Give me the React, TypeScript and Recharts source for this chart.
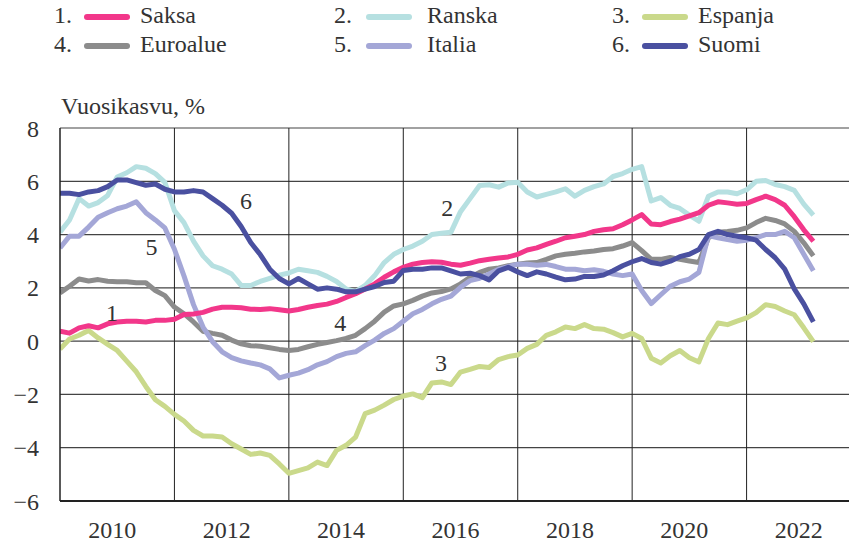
import { CartesianGrid, Line, LineChart, ReferenceDot, ReferenceLine, XAxis, YAxis } from 'recharts'

// kuukausisarjat, piste joka toinen kuukausi alkaen 1/2009
const START = 2009
const STEP = 1 / 6

const saksa = [
  0.37, 0.3, 0.5, 0.58, 0.5, 0.65, 0.72, 0.75, 0.75, 0.72, 0.78, 0.78, 0.82, 1.0, 1.02, 1.08, 1.2, 1.27, 1.27, 1.25,
  1.2, 1.19, 1.22, 1.18, 1.13, 1.19, 1.27, 1.34, 1.39, 1.49, 1.64, 1.78, 1.96, 2.15, 2.4, 2.6, 2.77, 2.89, 2.95, 2.98,
  2.96, 2.89, 2.85, 2.93, 3.02, 3.07, 3.12, 3.16, 3.26, 3.42, 3.5, 3.63, 3.75, 3.88, 3.94, 4.0, 4.12, 4.18, 4.22, 4.37,
  4.55, 4.75, 4.4, 4.37, 4.49, 4.58, 4.7, 4.82, 5.1, 5.23, 5.19, 5.14, 5.17, 5.31, 5.44, 5.31, 5.1, 4.67, 4.18, 3.75,
]
const ranska = [
  4.09, 4.55, 5.35, 5.07, 5.2, 5.47, 6.16, 6.32, 6.55, 6.49, 6.29, 5.96, 4.9, 4.45, 3.75, 3.2, 2.83, 2.7, 2.52, 2.09,
  2.09, 2.24, 2.36, 2.48, 2.56, 2.7, 2.64, 2.58, 2.43, 2.24, 1.96, 1.86, 2.09, 2.46, 2.95, 3.26, 3.44, 3.57, 3.75, 4.0,
  4.05, 4.09, 4.86, 5.35, 5.84, 5.87, 5.78, 5.94, 5.96, 5.6, 5.41, 5.51, 5.6, 5.72, 5.44, 5.66, 5.8, 5.9, 6.18, 6.29,
  6.45, 6.55, 5.26, 5.39, 5.1, 4.98, 4.73, 4.5, 5.44, 5.6, 5.6, 5.53, 5.68, 6.0, 6.03, 5.88, 5.8, 5.66, 5.14, 4.73,
]
const espanja = [
  -0.3, 0.08, 0.22, 0.4, 0.12, -0.12, -0.35, -0.75, -1.15, -1.7, -2.2, -2.45, -2.75, -3.0, -3.35, -3.56, -3.56, -3.6, -3.85, -4.05,
  -4.25, -4.2, -4.29, -4.61, -4.96, -4.86, -4.76, -4.54, -4.67, -4.1, -3.91, -3.6, -2.72, -2.59, -2.4, -2.19, -2.06, -1.98, -2.12, -1.57,
  -1.53, -1.63, -1.16, -1.06, -0.95, -0.99, -0.69, -0.58, -0.52, -0.27, -0.12, 0.22, 0.35, 0.53, 0.47, 0.62, 0.47, 0.45, 0.32, 0.16,
  0.29, 0.1, -0.64, -0.82, -0.55, -0.35, -0.62, -0.78, 0.1, 0.68, 0.62, 0.75, 0.87, 1.07, 1.37, 1.3, 1.13, 0.99, 0.5, -0.02,
]
const euroalue = [
  1.81, 2.06, 2.33, 2.26, 2.31, 2.25, 2.23, 2.23, 2.19, 2.19, 1.9, 1.71, 1.28, 1.03, 0.72, 0.37, 0.29, 0.22, 0.04, -0.1,
  -0.17, -0.19, -0.25, -0.31, -0.35, -0.31, -0.21, -0.12, -0.05, 0.02, 0.1, 0.22, 0.47, 0.75, 1.09, 1.32, 1.4, 1.53, 1.69, 1.81,
  1.86, 1.96, 2.15, 2.4, 2.58, 2.7, 2.75, 2.83, 2.89, 2.93, 2.95, 3.07, 3.2, 3.26, 3.3, 3.35, 3.38, 3.44, 3.47, 3.57,
  3.7, 3.4, 3.07, 3.07, 3.14, 3.07, 3.01, 2.95, 3.88, 4.09, 4.12, 4.16, 4.25, 4.45, 4.61, 4.53, 4.4, 4.12, 3.69, 3.2,
]
const italia = [
  3.5, 3.94, 3.94, 4.28, 4.65, 4.82, 4.97, 5.07, 5.23, 4.82, 4.55, 4.25, 3.45, 2.45, 1.37, 0.53, -0.02, -0.4, -0.62, -0.74,
  -0.82, -0.89, -1.04, -1.38, -1.28, -1.2, -1.07, -0.89, -0.77, -0.58, -0.46, -0.4, -0.17, 0.04, 0.29, 0.47, 0.75, 1.03, 1.19, 1.4,
  1.57, 1.69, 2.02, 2.27, 2.36, 2.52, 2.7, 2.8, 2.89, 2.89, 2.85, 2.88, 2.8, 2.7, 2.7, 2.64, 2.68, 2.62, 2.52, 2.46,
  2.52, 1.9, 1.41, 1.74, 2.06, 2.23, 2.33, 2.58, 3.96, 3.88, 3.81, 3.75, 3.79, 3.88, 4.0, 4.0, 4.12, 3.88, 3.26, 2.64,
]
const suomi = [
  5.55, 5.55, 5.5, 5.6, 5.65, 5.8, 6.05, 6.05, 5.95, 5.85, 5.9, 5.7, 5.6, 5.6, 5.65, 5.6, 5.35, 5.1, 4.8, 4.3,
  3.7, 3.25, 2.7, 2.35, 2.15, 2.35, 2.15, 1.95, 2.0, 1.95, 1.85, 1.85, 1.95, 2.05, 2.2, 2.25, 2.65, 2.7, 2.7, 2.75,
  2.75, 2.64, 2.52, 2.55, 2.46, 2.3, 2.64, 2.77, 2.6, 2.46, 2.6, 2.52, 2.4, 2.3, 2.33, 2.43, 2.43, 2.48, 2.64, 2.83,
  2.98, 3.1, 2.95, 2.89, 3.0, 3.17, 3.26, 3.44, 4.0, 4.12, 4.0, 3.94, 3.88, 3.79, 3.44, 3.13, 2.7, 1.96, 1.4, 0.72,
]

const xTicks = [2010, 2012, 2014, 2016, 2018, 2020, 2022]
const gridYears = [2011, 2013, 2015, 2017, 2019, 2021]
const yTicks = [-6, -4, -2, 0, 2, 4, 6, 8]

const series = [
  { key: 'saksa', name: 'Saksa', num: 1, color: '#f2378a', values: saksa },
  { key: 'ranska', name: 'Ranska', num: 2, color: '#b6e0e1', values: ranska },
  { key: 'espanja', name: 'Espanja', num: 3, color: '#cad98b', values: espanja },
  { key: 'euroalue', name: 'Euroalue', num: 4, color: '#8c8c8c', values: euroalue },
  { key: 'italia', name: 'Italia', num: 5, color: '#a4a7d7', values: italia },
  { key: 'suomi', name: 'Suomi', num: 6, color: '#4a50a0', values: suomi },
]
// piirtojärjestys (viimeinen päällimmäisenä)
const drawOrder = ['ranska', 'espanja', 'euroalue', 'italia', 'saksa', 'suomi']

const lineLabels = [
  { text: '1', x: 2009.91, y: 1.09 },
  { text: '2', x: 2015.77, y: 5.03 },
  { text: '3', x: 2015.66, y: -0.79 },
  { text: '4', x: 2013.9, y: 0.71 },
  { text: '5', x: 2010.6, y: 3.57 },
  { text: '6', x: 2012.25, y: 5.29 },
]

const data = saksa.map((_, i) => {
  const row: Record<string, number> = { t: START + i * STEP }
  series.forEach((s) => (row[s.key] = s.values[i]))
  return row
})

const FONT = 24
const TEXT = '#333'
const FAMILY = '"Liberation Serif", "Times New Roman", Tinos, "Noto Serif", "DejaVu Serif", serif'
const legendCols = [
  { num: 54, swatch: 84, label: 140 },
  { num: 334, swatch: 366, label: 427 },
  { num: 612, swatch: 642, label: 698 },
]
const legendRows = [16, 45]

const fmtY = (v: number) => (v < 0 ? `\u2212${Math.abs(v)}` : `${v}`)

function LegendBox() {
  return (
    <>
      {series.map((s, i) => {
        const col = legendCols[i % 3]
        const cy = legendRows[Math.floor(i / 3)]
        return (
          <div key={s.key}>
            <div style={{ position: 'absolute', left: col.num, top: cy - 13, fontSize: FONT, lineHeight: 1 }}>{s.num}.</div>
            <div
              style={{
                position: 'absolute',
                left: col.swatch,
                top: cy - 2,
                width: 46,
                height: 6,
                borderRadius: 3,
                background: s.color,
              }}
            />
            <div style={{ position: 'absolute', left: col.label, top: cy - 13, fontSize: FONT, lineHeight: 1 }}>{s.name}</div>
          </div>
        )
      })}
    </>
  )
}

export default function App() {
  return (
    <div
      style={{
        position: 'absolute',
        left: 0,
        top: 0,
        width: 849,
        height: 542,
        background: '#fff',
        color: TEXT,
        fontFamily: FAMILY,
        overflow: 'hidden',
      }}
    >
      <LegendBox />
      <div style={{ position: 'absolute', left: 61, top: 94, fontSize: FONT, lineHeight: 1 }}>Vuosikasvu, %</div>
      <LineChart
        width={849}
        height={542}
        data={data}
        margin={{ top: 128, right: 0, bottom: 0, left: 0 }}
        style={{ position: 'absolute', left: 0, top: 0, fontFamily: FAMILY }}
      >
        <CartesianGrid vertical={false} stroke="#444" strokeWidth={1.2} />
        {gridYears.map((yr) => (
          <ReferenceLine key={yr} x={yr} stroke="#222" strokeWidth={1} />
        ))}
        <XAxis
          dataKey="t"
          type="number"
          domain={[2009, 2022.79]}
          ticks={xTicks}
          interval={0}
          height={41}
          tickLine={false}
          tickSize={0}
          tickMargin={20}
          axisLine={{ stroke: '#222', strokeWidth: 2 }}
          tick={{ fill: TEXT, fontSize: FONT, fontFamily: FAMILY, dx: -5 }}
          allowDataOverflow
        />
        <YAxis
          type="number"
          domain={[-6, 8]}
          ticks={yTicks}
          interval={0}
          width={60}
          tickLine={false}
          tickSize={0}
          tickMargin={21}
          tickFormatter={fmtY}
          axisLine={{ stroke: '#222', strokeWidth: 1.5 }}
          tick={{ fill: TEXT, fontSize: FONT, fontFamily: FAMILY }}
        />
        {drawOrder.map((k) => {
          const s = series.find((x) => x.key === k)!
          return (
            <Line
              key={k}
              dataKey={k}
              type="linear"
              stroke={s.color}
              strokeWidth={5}
              strokeLinejoin="round"
              dot={false}
              activeDot={false}
              isAnimationActive={false}
            />
          )
        })}
        {lineLabels.map((l) => (
          <ReferenceDot
            key={l.text}
            x={l.x}
            y={l.y}
            r={0}
            fill="none"
            stroke="none"
            label={{ value: l.text, position: 'center', fill: TEXT, fontSize: FONT, fontFamily: FAMILY }}
          />
        ))}
      </LineChart>
    </div>
  )
}
